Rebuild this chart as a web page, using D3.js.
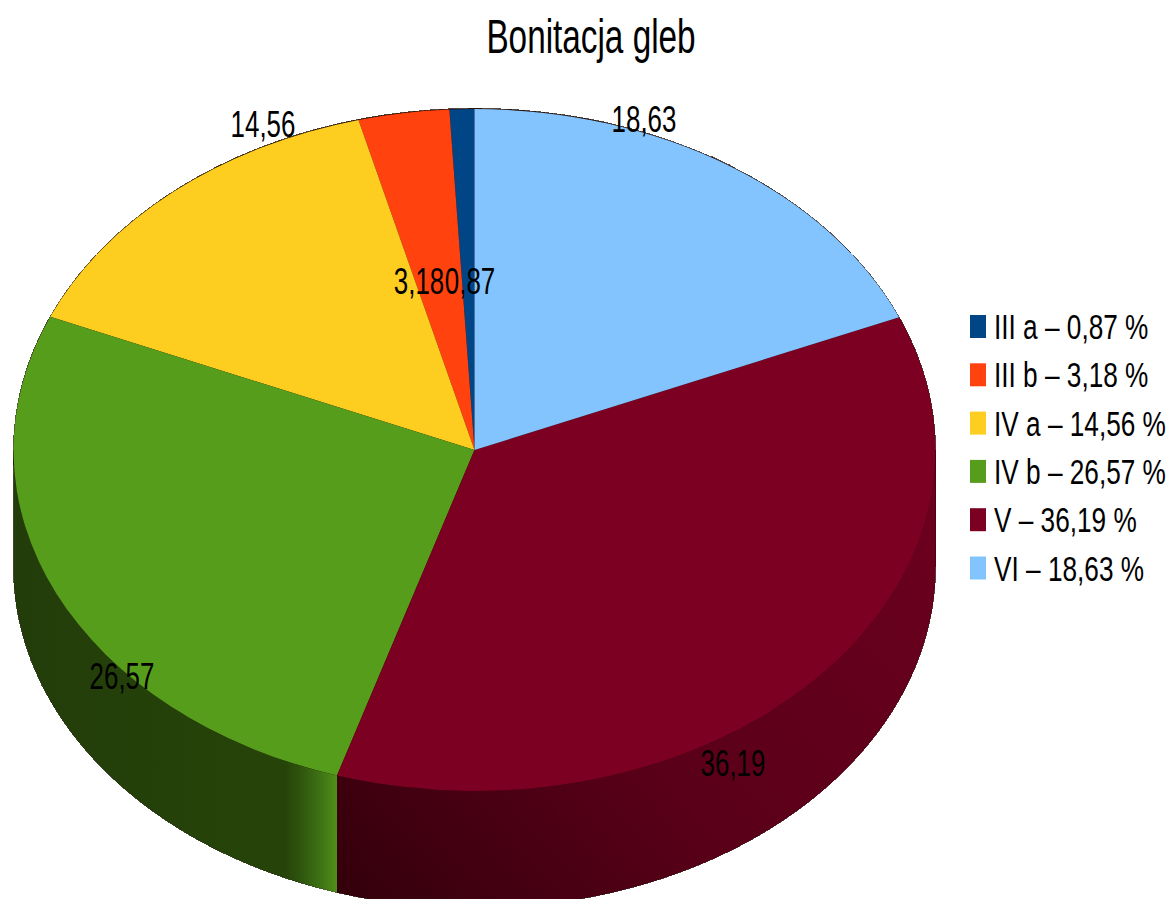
<!DOCTYPE html>
<html><head><meta charset="utf-8">
<script src="https://cdn.jsdelivr.net/npm/d3@7"></script>
<style>html,body{margin:0;padding:0;background:#fff;overflow:hidden}
text{font-family:"Liberation Sans",sans-serif;fill:#000}</style>
</head><body><svg id="c" width="1171" height="899"></svg>
<script>
const titleText = "Bonitacja gleb";
const categories = ["III a","III b","IV a","IV b","V","VI"];
const values = [0.87,3.18,14.56,26.57,36.19,18.63];
const valueLabels = ["0,87","3,18","14,56","26,57","36,19","18,63"];
const colors = ["#004586","#ff420e","#fdcd20","#579d1c","#7b0021","#83c4ff"];
const sideShades = [
  null, null, null,
  [["0%","#233d0a"],["84%","#264409"],["88.5%","#2d540e"],["95%","#3f7315"],["100%","#4f8f1a"]],
  [["0%","#300009"],["16%","#40000f"],["43%","#5a0019"],["78%","#66001d"],["100%","#70001f"]],
  null
];
const labelPos = [[470,294],[419,294],[263,137],[122,689],[733,776],[644,132]];

const W=1171,H=899, cx=474.5, cy=450, rx=461, ry=341, depth=117;
const svg=d3.select("#c");
const pieGen=d3.pie().sort(null).startAngle(2*Math.PI).endAngle(0);
const arcs=pieGen(values);
const px=a=>cx+rx*Math.sin(a), py=a=>cy-ry*Math.cos(a);
const defs=svg.append("defs");

svg.append("ellipse").attr("cx",cx).attr("cy",cy).attr("rx",rx).attr("ry",ry+0.6)
  .attr("fill","#200").attr("stroke","#2a1a10").attr("stroke-width",0.8).attr("shape-rendering","crispEdges");

const area=d3.area().x(a=>px(a)).y0(a=>py(a)).y1(a=>py(a)+depth);
arcs.forEach((d,i)=>{
  if(!sideShades[i]) return;
  const a0=Math.max(Math.min(d.startAngle,d.endAngle),Math.PI/2),
        a1=Math.min(Math.max(d.startAngle,d.endAngle),3*Math.PI/2);
  const n=120, pts=d3.range(n+1).map(k=>a0+(a1-a0)*k/n);
  const id="g"+i;
  const g=defs.append("linearGradient").attr("id",id).attr("gradientUnits","userSpaceOnUse");
  if(i===3) g.attr("x1",px(a1)).attr("y1",0).attr("x2",px(a0)).attr("y2",0);
  else g.attr("x1",px(a1)).attr("y1",py(a1)+depth+40).attr("x2",px(a0)).attr("y2",py(a0)-60);
  sideShades[i].forEach(s=>g.append("stop").attr("offset",s[0]).attr("stop-color",s[1]));
  svg.append("path").attr("d",area(pts)).attr("fill",`url(#${id})`)
    .attr("stroke","#160a04").attr("stroke-width",0.7).attr("shape-rendering","crispEdges");
  svg.append("path").attr("d",area(pts)).attr("fill",`url(#${id})`);
});

const arcGen=d3.arc().innerRadius(0).outerRadius(rx);
svg.append("g").attr("transform",`translate(${cx},${cy}) scale(1,${ry/rx})`)
  .selectAll("path").data(arcs).join("path")
  .attr("d",d=>arcGen({startAngle:d.endAngle,endAngle:d.startAngle}))
  .attr("fill",(d,i)=>colors[i]);

svg.append("text").attr("transform",`translate(591,52.5) scale(0.694,1)`).attr("text-anchor","middle")
  .attr("font-size",48).text(titleText);

svg.append("g").selectAll("text").data(valueLabels).join("text")
  .attr("transform",(d,i)=>`translate(${labelPos[i][0]},${labelPos[i][1]}) scale(0.70,1)`)
  .attr("text-anchor","middle").attr("font-size",37).text(d=>d);

const ly=d3.scalePoint().domain(categories).range([326.5,568]);
const leg=svg.append("g").selectAll("g").data(categories).join("g")
  .attr("transform",d=>`translate(970,${ly(d)})`);
leg.append("rect").attr("x",0).attr("y",-11.5).attr("width",16).attr("height",23)
  .attr("fill",(d,i)=>colors[i]);
leg.append("text").attr("transform",`translate(24,12.5) scale(0.76,1)`).attr("font-size",34.5)
  .text((d,i)=>`${d} – ${valueLabels[i]} %`);
</script></body></html>
